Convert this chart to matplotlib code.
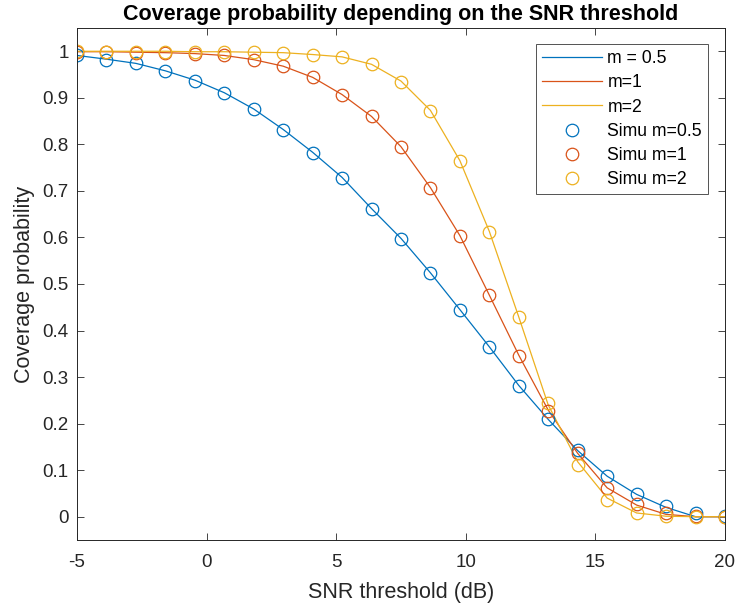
import numpy as np
import matplotlib
matplotlib.use("Agg")
import matplotlib.pyplot as plt

plt.rcParams['font.family'] = ['Liberation Sans', 'DejaVu Sans']

# SNR threshold grid (dB)
snr_db = np.linspace(-5, 20, 23)

# Theoretical curves
theory_m05 = [0.991, 0.983, 0.974, 0.958, 0.938, 0.911, 0.876, 0.832, 0.783, 0.729, 0.662,
              0.598, 0.524, 0.445, 0.365, 0.282, 0.209, 0.142, 0.087, 0.048, 0.020, 0.0, 0.0]
theory_m1 = [0.999, 0.999, 0.998, 0.997, 0.995, 0.991, 0.982, 0.968, 0.944, 0.907, 0.860,
             0.795, 0.707, 0.604, 0.476, 0.347, 0.229, 0.136, 0.062, 0.025, 0.005, 0.0, 0.0]
theory_m2 = [1.0, 1.0, 1.0, 1.0, 0.999, 0.999, 0.998, 0.997, 0.993, 0.988, 0.972,
             0.936, 0.873, 0.765, 0.613, 0.429, 0.240, 0.118, 0.040, 0.008, 0.001, 0.0, 0.0]

# Simulation points
simu_m05 = [0.991, 0.982, 0.974, 0.958, 0.937, 0.910, 0.875, 0.831, 0.782, 0.728, 0.661,
            0.597, 0.523, 0.444, 0.365, 0.281, 0.209, 0.143, 0.087, 0.049, 0.022, 0.009, 0.001]
simu_m1 = [0.998, 0.998, 0.997, 0.996, 0.994, 0.991, 0.982, 0.968, 0.944, 0.907, 0.860,
           0.795, 0.707, 0.603, 0.476, 0.346, 0.228, 0.136, 0.062, 0.027, 0.007, 0.001, 0.0]
simu_m2 = [1.0, 0.999, 0.999, 0.999, 0.998, 0.999, 0.998, 0.997, 0.993, 0.988, 0.972,
           0.935, 0.872, 0.764, 0.612, 0.428, 0.244, 0.111, 0.036, 0.007, 0.001, 0.0, 0.0]

labels_line = ['m = 0.5', 'm=1', 'm=2']
labels_simu = ['Simu m=0.5', 'Simu m=1', 'Simu m=2']
colors = ['#0072BD', '#D95319', '#EDB120']

fig = plt.figure(figsize=(7.36, 6.10), dpi=100)
ax = fig.add_axes([0.1046, 0.1148, 0.8804, 0.8393])

for y, lab, c in zip([theory_m05, theory_m1, theory_m2], labels_line, colors):
    ax.plot(snr_db, y, '-', color=c, lw=0.9, label=lab)
for y, lab, c in zip([simu_m05, simu_m1, simu_m2], labels_simu, colors):
    ax.plot(snr_db, y, 'o', color=c, mfc='none', ms=9, mew=0.9, label=lab, linestyle='none')

ax.set_xlim(-5, 20)
ax.set_ylim(-0.05, 1.05)
ax.set_xticks([-5, 0, 5, 10, 15, 20])
ax.set_xticklabels(['-5', '0', '5', '10', '15', '20'])
yt = np.round(np.arange(0, 1.01, 0.1), 1)
ax.set_yticks(yt)
ax.set_yticklabels(['0'] + [f'{v:g}' for v in yt[1:-1]] + ['1'])
ax.tick_params(direction='in', top=True, right=True, length=5, width=0.6,
               labelsize=13.5, colors='#262626')
ax.tick_params(axis='x', pad=10)
ax.tick_params(axis='y', pad=6)
for s in ax.spines.values():
    s.set_color('#262626')
    s.set_linewidth(0.7)

ax.set_xlabel('SNR threshold (dB)', fontsize=15.5, color='#262626', labelpad=8)
ax.set_ylabel('Coverage probability', fontsize=15.5, color='#262626', labelpad=5)
ax.set_title('Coverage probability depending on the SNR threshold',
             fontsize=15.5, fontweight='bold', pad=6)

leg = ax.legend(loc='upper right', bbox_to_anchor=(0.974, 0.969), fontsize=12.7,
                frameon=True, fancybox=False, edgecolor='#262626', borderpad=0.35,
                handlelength=3.4, handletextpad=0.3, labelspacing=0.41, borderaxespad=0)
leg.get_frame().set_linewidth(0.7)

fig.savefig('out.png', dpi=100)
